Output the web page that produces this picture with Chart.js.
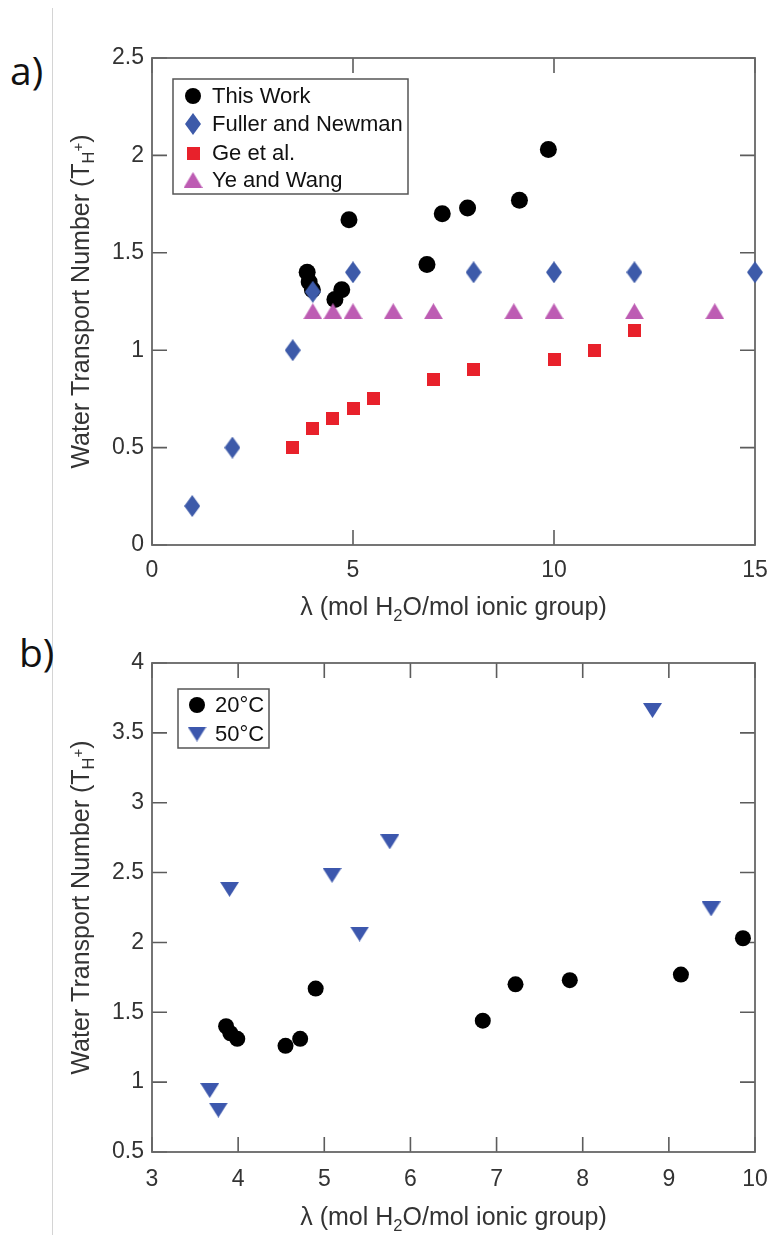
<!DOCTYPE html>
<html>
<head>
<meta charset="utf-8">
<script src="https://cdn.jsdelivr.net/npm/chart.js@4"></script>
<style>
body { margin: 0; background: #fff; width: 772px; height: 1235px; position: relative; overflow: hidden; }
.panel { position: absolute; left: 0; }
.tag { position: absolute; font-family: "Open Sans", sans-serif; font-size: 39px; color: #111; line-height: 52px; }
#vline { position: absolute; left: 52px; top: 8px; width: 1px; height: 1227px; background: #d4d4d4; }
</style>
</head>
<body>
<div id="vline"></div>
<div class="tag" style="left:10px;top:44px">a)</div>
<div class="tag" style="left:19px;top:626px">b)</div>
<canvas id="chart-a" class="panel" width="772" height="625" style="top:0"></canvas>
<canvas id="chart-b" class="panel" width="772" height="610" style="top:625px"></canvas>
<script>
// datos
const thisWorkX = [3.86, 3.91, 3.99, 4.55, 4.72, 4.90, 6.84, 7.22, 7.85, 9.14, 9.86];
const thisWorkY = [1.40, 1.35, 1.31, 1.26, 1.31, 1.67, 1.44, 1.70, 1.73, 1.77, 2.03];
const fullerX = [1, 2, 3.5, 4, 5, 8, 10, 12, 15];
const fullerY = [0.2, 0.5, 1.0, 1.3, 1.4, 1.4, 1.4, 1.4, 1.4];
const geX = [3.5, 4, 4.5, 5, 5.5, 7, 8, 10, 11, 12];
const geY = [0.5, 0.6, 0.65, 0.7, 0.75, 0.85, 0.9, 0.95, 1.0, 1.1];
const yeX = [4, 4.5, 5, 6, 7, 9, 10, 12, 14];
const yeY = [1.2, 1.2, 1.2, 1.2, 1.2, 1.2, 1.2, 1.2, 1.2];
const caliente50X = [3.67, 3.77, 3.90, 5.09, 5.41, 5.76, 8.81, 9.49];
const caliente50Y = [0.94, 0.80, 2.38, 2.48, 2.06, 2.72, 3.66, 2.24];

const aXTicks = [0, 5, 10, 15];
const aYTicks = [0, 0.5, 1, 1.5, 2, 2.5];
const bXTicks = [3, 4, 5, 6, 7, 8, 9, 10];
const bYTicks = [0.5, 1, 1.5, 2, 2.5, 3, 3.5, 4];

const etiquetasA = ['This Work', 'Fuller and Newman', 'Ge et al.', 'Ye and Wang'];
const etiquetasB = ['20°C', '50°C'];

const FUENTE = '"Liberation Sans", Arial, sans-serif';

const tituloX = [['λ (mol H', 1, 0], ['2', 0.66, 0.32], ['O/mol ionic group)', 1, 0]];
const tituloY = [['Water Transport Number (T', 1, 0], ['H', 0.66, 0.3], ['+', 0.6, -0.12], [')', 1, 0]];

function puntos(xs, ys) {
    return xs.map((x, i) => ({ x: x, y: ys[i] }));
}

function marcador(forma, color, w, h) {
    const c = document.createElement('canvas');
    c.width = w; c.height = h;
    const g = c.getContext('2d');
    g.fillStyle = color;
    g.beginPath();
    if (forma === 'rombo') {
        g.moveTo(w / 2, 0); g.lineTo(w, h / 2); g.lineTo(w / 2, h); g.lineTo(0, h / 2);
    } else if (forma === 'arriba') {
        g.moveTo(w / 2, 0); g.lineTo(w, h); g.lineTo(0, h);
    } else if (forma === 'abajo') {
        g.moveTo(0, 0); g.lineTo(w, 0); g.lineTo(w / 2, h);
    } else {
        g.rect(0, 0, w, h);
    }
    g.closePath();
    g.fill();
    return c;
}

function textoRico(ctx, partes, x, y, size, color) {
    let total = 0;
    const anchos = partes.map(p => {
        ctx.font = `${size * p[1]}px ${FUENTE}`;
        const w = ctx.measureText(p[0]).width;
        total += w;
        return w;
    });
    let cx = x - total / 2;
    ctx.fillStyle = color;
    ctx.textBaseline = 'middle';
    ctx.textAlign = 'left';
    partes.forEach((p, i) => {
        ctx.font = `${size * p[1]}px ${FUENTE}`;
        ctx.fillText(p[0], cx, y + p[2] * size);
        cx += anchos[i];
    });
}

// caja y marcas hacia dentro
const marcoPlugin = {
    id: 'marco',
    beforeDatasetsDraw(chart) {
        const { ctx, chartArea: a, scales: { x, y } } = chart;
        ctx.save();
        ctx.strokeStyle = '#5c5c5c';
        ctx.lineWidth = 1.6;
        ctx.beginPath();
        x.ticks.forEach(t => {
            const px = x.getPixelForValue(t.value);
            ctx.moveTo(px, a.bottom); ctx.lineTo(px, a.bottom - 15);
            ctx.moveTo(px, a.top); ctx.lineTo(px, a.top + 15);
        });
        y.ticks.forEach(t => {
            const py = y.getPixelForValue(t.value);
            ctx.moveTo(a.left, py); ctx.lineTo(a.left + 15, py);
            ctx.moveTo(a.right, py); ctx.lineTo(a.right - 15, py);
        });
        ctx.stroke();
        ctx.lineWidth = 1.8;
        ctx.strokeStyle = '#666';
        ctx.strokeRect(a.left, a.top, a.right - a.left, a.bottom - a.top);
        ctx.restore();
    }
};

const leyendaPlugin = {
    id: 'leyenda',
    afterDatasetsDraw(chart, args, op) {
        const ctx = chart.ctx;
        const [x1, y1, x2, y2] = op.caja;
        ctx.save();
        ctx.fillStyle = '#fff';
        ctx.fillRect(x1, y1, x2 - x1, y2 - y1);
        ctx.strokeStyle = '#555';
        ctx.lineWidth = 1.5;
        ctx.strokeRect(x1, y1, x2 - x1, y2 - y1);
        chart.data.datasets.forEach((ds, i) => {
            const fy = op.filas[i];
            if (ds.pointStyle === 'circle') {
                ctx.fillStyle = ds.backgroundColor;
                ctx.beginPath();
                ctx.arc(op.marcaX, fy, 8, 0, Math.PI * 2);
                ctx.fill();
            } else {
                const im = ds.pointStyle;
                ctx.drawImage(im, op.marcaX - im.width / 2, fy - im.height / 2);
            }
            ctx.fillStyle = '#111';
            ctx.font = `22px ${FUENTE}`;
            ctx.textBaseline = 'middle';
            ctx.textAlign = 'left';
            ctx.fillText(ds.label, op.textoX, fy + 1);
        });
        ctx.restore();
    }
};

const titulosPlugin = {
    id: 'titulos',
    afterDraw(chart, args, op) {
        const { ctx, chartArea: a } = chart;
        ctx.save();
        textoRico(ctx, tituloX, (a.left + a.right) / 2, op.xTituloY, 25, '#333');
        ctx.translate(op.yTituloX, (a.top + a.bottom) / 2);
        ctx.rotate(-Math.PI / 2);
        textoRico(ctx, tituloY, 0, 0, 25, '#333');
        ctx.restore();
    }
};

function opcionesPanel(xTicks, yTicks, alturaX, padTop, padX, leyenda, xTituloY) {
    const eje = (ticks) => ({
        type: 'linear',
        min: ticks[0],
        max: ticks[ticks.length - 1],
        afterBuildTicks: s => { s.ticks = ticks.map(v => ({ value: v })); },
        grid: { display: false, drawTicks: false },
        border: { display: false },
        ticks: {
            color: '#333',
            font: { family: FUENTE, size: 23 },
            callback: v => String(v)
        }
    });
    const x = eje(xTicks);
    x.ticks.padding = padX;
    x.ticks.maxRotation = 0;
    x.afterFit = s => { s.height = alturaX; s.paddingLeft = 0; s.paddingRight = 0; };
    const y = eje(yTicks);
    y.ticks.padding = 8;
    y.afterFit = s => { s.width = 152; s.paddingTop = 0; s.paddingBottom = 0; };
    return {
        responsive: false,
        animation: false,
        devicePixelRatio: 1,
        layout: { padding: { left: 0, right: 17, top: padTop, bottom: 0 } },
        scales: { x: x, y: y },
        plugins: {
            legend: { display: false },
            tooltip: { enabled: false },
            leyenda: leyenda,
            titulos: { xTituloY: xTituloY, yTituloX: 82 }
        }
    };
}

const rombo = marcador('rombo', '#3d5aa9', 16, 22);
const cuadro = marcador('cuadro', '#e8212b', 13, 13);
const trianguloArriba = marcador('arriba', '#bd5cb3', 19, 16);
const trianguloAbajo = marcador('abajo', '#3c57ad', 19, 15);

new Chart(document.getElementById('chart-a'), {
    type: 'scatter',
    data: {
        datasets: [
            { label: etiquetasA[0], data: puntos(thisWorkX, thisWorkY), pointStyle: 'circle', pointRadius: 8.5, backgroundColor: '#000', borderWidth: 0, order: 4, clip: false },
            { label: etiquetasA[1], data: puntos(fullerX, fullerY), pointStyle: rombo, pointRadius: 8, backgroundColor: '#3d5aa9', order: 3, clip: false },
            { label: etiquetasA[2], data: puntos(geX, geY), pointStyle: cuadro, pointRadius: 7, backgroundColor: '#e8212b', order: 2, clip: false },
            { label: etiquetasA[3], data: puntos(yeX, yeY), pointStyle: trianguloArriba, pointRadius: 8, backgroundColor: '#bd5cb3', order: 1, clip: false }
        ]
    },
    options: opcionesPanel(aXTicks, aYTicks, 80, 58, 12,
        { caja: [173, 79, 408, 194], filas: [96, 124, 153, 180], marcaX: 193, textoX: 212 }, 608),
    plugins: [marcoPlugin, leyendaPlugin, titulosPlugin]
});

new Chart(document.getElementById('chart-b'), {
    type: 'scatter',
    data: {
        datasets: [
            { label: etiquetasB[0], data: puntos(thisWorkX, thisWorkY), pointStyle: 'circle', pointRadius: 8, backgroundColor: '#000', borderWidth: 0, order: 2, clip: false },
            { label: etiquetasB[1], data: puntos(caliente50X, caliente50Y), pointStyle: trianguloAbajo, pointRadius: 8, backgroundColor: '#3c57ad', order: 1, clip: false }
        ]
    },
    options: opcionesPanel(bXTicks, bYTicks, 83, 38, 14,
        { caja: [178, 64, 269, 123], filas: [80, 109], marcaX: 197, textoX: 215 }, 593),
    plugins: [marcoPlugin, leyendaPlugin, titulosPlugin]
});
</script>
</body>
</html>
